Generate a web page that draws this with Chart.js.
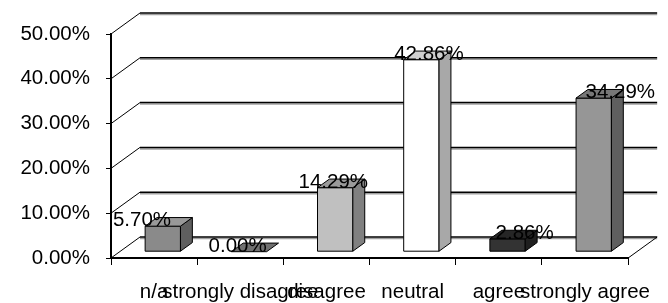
<!DOCTYPE html>
<html>
<head>
<meta charset="utf-8">
<script src="https://cdn.jsdelivr.net/npm/chart.js@4/dist/chart.umd.min.js"></script>
<style>
  html, body { margin: 0; padding: 0; background: #fff; }
  canvas { display: block; }
</style>
</head>
<body>
<canvas id="chart" width="668" height="303"></canvas>
<script>
// answers share
const categories = ['n/a', 'strongly disagree', 'disagree', 'neutral', 'agree', 'strongly agree'];
const shares = [5.70, 0.00, 14.29, 42.86, 2.86, 34.29];
const yTicks = [0, 10, 20, 30, 40, 50];

// face colours per column (front / side / top)
const frontColors = ['#8a8a8a', '#707070', '#c0c0c0', '#ffffff', '#333333', '#969696'];
const sideColors = ['#5f5f5f', '#505050', '#808080', '#a8a8a8', '#1f1f1f', '#5f5f5f'];
const topColors = ['#999999', '#707070', '#9a9a9a', '#cfcfcf', '#262626', '#777777'];

const FONT = '"Liberation Sans", Arial, sans-serif';
const FONT_SIZE = 20.5;
const DX = 29, DY = -21;     // wall depth offset
const F0 = 0.3, F1 = 0.71;   // bar depth, as fraction of wall depth

function line(ctx, x1, y1, x2, y2, color, w) {
    ctx.beginPath();
    ctx.moveTo(x1, y1);
    ctx.lineTo(x2, y2);
    ctx.strokeStyle = color;
    ctx.lineWidth = w;
    ctx.stroke();
}

function poly(ctx, pts, fill) {
    ctx.beginPath();
    ctx.moveTo(pts[0][0], pts[0][1]);
    for (let i = 1; i < pts.length; i++) ctx.lineTo(pts[i][0], pts[i][1]);
    ctx.closePath();
    ctx.fillStyle = fill;
    ctx.fill();
    ctx.strokeStyle = '#000';
    ctx.lineWidth = 1;
    ctx.stroke();
}

const frame3d = {
    id: 'frame3d',
    beforeDatasetsDraw(chart) {
        const { ctx, chartArea: a, scales: { y } } = chart;
        ctx.save();
        yTicks.forEach(v => {
            const py = y.getPixelForValue(v);
            line(ctx, a.left, py, a.left + DX, py + DY, '#000', 1);
            line(ctx, a.left + DX, py + DY + 1.5, a.right + DX, py + DY + 1.5, '#a0a0a0', 1.5);
            line(ctx, a.left + DX, py + DY, a.right + DX, py + DY, '#000', 1.5);
        });
        // floor, right edge
        line(ctx, a.right, a.bottom, a.right + DX, a.bottom + DY, '#000', 1);
        ctx.restore();
    },
    afterDatasetsDraw(chart) {
        const { ctx } = chart;
        const meta = chart.getDatasetMeta(0);
        const catW = chart.scales.x.width / categories.length;
        const d = (F1 - F0) * DX, e = (F1 - F0) * DY;
        ctx.save();
        meta.data.forEach((el, i) => {
            const w = el.width;
            const xL = el.x - w / 2 + F0 * DX, xR = xL + w;
            const yT = el.y + F0 * DY, yB = el.base + F0 * DY;
            if (yB - yT > 0.5) {
                poly(ctx, [[xL, yT], [xR, yT], [xR, yB], [xL, yB]], frontColors[i]);
                poly(ctx, [[xR, yT], [xR + d, yT + e], [xR + d, yB + e], [xR, yB]], sideColors[i]);
            }
            poly(ctx, [[xL, yT], [xL + d, yT + e], [xR + d, yT + e], [xR, yT]], topColors[i]);
        });
        // value labels
        ctx.font = FONT_SIZE + 'px ' + FONT;
        ctx.fillStyle = '#000';
        ctx.textAlign = 'center';
        ctx.textBaseline = 'middle';
        meta.data.forEach((el, i) => {
            const shift = (i - 1.28) * 0.11 * catW;
            ctx.fillText(shares[i].toFixed(2) + '%', el.x + shift, el.y - 12);
        });
        ctx.restore();
    }
};

new Chart(document.getElementById('chart'), {
    type: 'bar',
    data: {
        labels: categories,
        datasets: [{
            data: shares,
            backgroundColor: 'rgba(0,0,0,0)',
            borderWidth: 0,
            categoryPercentage: 1,
            barPercentage: 0.41
        }]
    },
    options: {
        responsive: false,
        animation: false,
        layout: { padding: { top: 34, right: 36, left: 0, bottom: 0 } },
        plugins: { legend: { display: false }, tooltip: { enabled: false } },
        scales: {
            x: {
                grid: { display: true, drawOnChartArea: false, color: '#000', tickLength: 7, offset: true },
                border: { color: '#000', width: 2 },
                ticks: { autoSkip: false, maxRotation: 0, padding: 15, color: '#000', font: { family: FONT, size: FONT_SIZE } },
                afterFit: s => { s.height = 45; }
            },
            y: {
                min: 0,
                max: 50,
                grid: { drawOnChartArea: false, color: '#000', tickLength: 5 },
                border: { color: '#000', width: 2 },
                ticks: {
                    stepSize: 10,
                    padding: 16,
                    color: '#000',
                    font: { family: FONT, size: FONT_SIZE },
                    callback: v => v.toFixed(2) + '%'
                },
                afterFit: s => { s.width = 111; }
            }
        }
    },
    plugins: [frame3d]
});
</script>
</body>
</html>
